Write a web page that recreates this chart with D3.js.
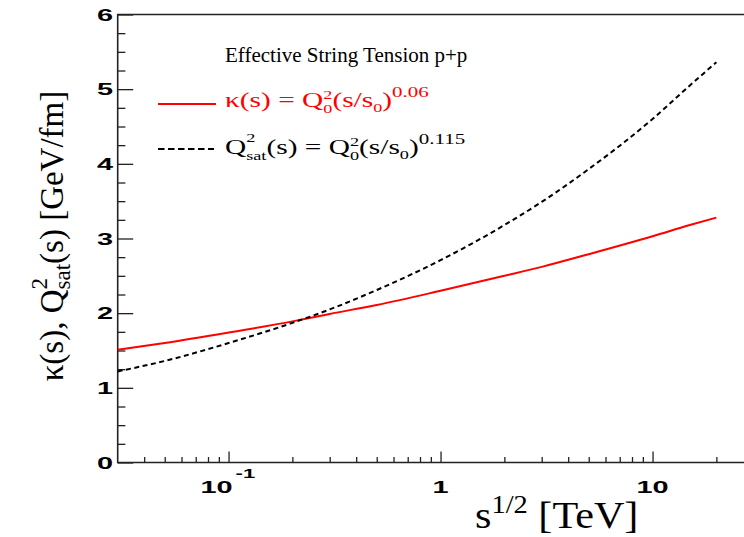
<!DOCTYPE html>
<html>
<head>
<meta charset="utf-8">
<script src="https://cdn.jsdelivr.net/npm/d3@7"></script>
<style>
  html, body { margin: 0; padding: 0; background: #fff; }
  svg { display: block; }
  .serif { font-family: "Liberation Serif", "DejaVu Serif", serif; }
  .bold { font-family: "Liberation Sans", Arial, sans-serif; font-weight: bold; }
</style>
</head>
<body>
<svg id="chart" width="744" height="537"></svg>
<script>
// sqrt(s) in TeV
const energy = [0.03, 0.05, 0.1, 0.2, 0.3, 0.5, 1, 2, 3, 5, 10, 15, 20];
// effective string tension kappa(s) [GeV/fm]
const kappa = [1.51, 1.60, 1.74, 1.89, 1.99, 2.11, 2.30, 2.50, 2.62, 2.79, 3.03, 3.18, 3.28];
// saturation scale Q_sat^2(s)
const qsat = [1.22, 1.36, 1.60, 1.87, 2.05, 2.31, 2.71, 3.18, 3.49, 3.93, 4.60, 5.05, 5.36];

const xMajorTicks = [0.1, 1, 10];
const xTickBase = ["10", "1", "10"];
const xTickExp = ["-1", "", ""];
const xMinorTicks = [0.04, 0.05, 0.06, 0.07, 0.08, 0.09, 0.2, 0.3, 0.4, 0.5, 0.6, 0.7, 0.8, 0.9,
                     2, 3, 4, 5, 6, 7, 8, 9, 20];
const yMajorTicks = [0, 1, 2, 3, 4, 5, 6];
const yMinorTicks = d3.range(0, 6.01, 0.25).filter(v => Math.abs(v - Math.round(v)) > 1e-6);

const plotLeft = 117.7, plotTop = 14.5, plotBottom = 462.5;
const x = d3.scaleLog().domain([0.03, 30]).range([plotLeft, plotLeft + 636]);
const y = d3.scaleLinear().domain([0, 6]).range([plotBottom, plotTop]);

const svg = d3.select("#chart");
const axisColor = "#222";

// frame: left, top, bottom lines
svg.append("path")
  .attr("d", `M${x.range()[1]},${plotTop}H${plotLeft}V${plotBottom}H${x.range()[1]}`)
  .attr("fill", "none").attr("stroke", axisColor).attr("stroke-width", 1.6);

// y ticks (pointing into the plot)
function styleAxis(g) {
  g.select(".domain").remove();
  g.selectAll(".tick line").attr("stroke", axisColor).attr("stroke-width", 1.3);
}
svg.append("g").attr("transform", `translate(${plotLeft},0)`)
  .call(d3.axisRight(y).tickValues(yMajorTicks).tickSize(15.5).tickFormat(""))
  .call(styleAxis);
svg.append("g").attr("transform", `translate(${plotLeft},0)`)
  .call(d3.axisRight(y).tickValues(yMinorTicks).tickSize(7.7).tickFormat(""))
  .call(styleAxis);

// x ticks (pointing up into the plot)
svg.append("g").attr("transform", `translate(0,${plotBottom})`)
  .call(d3.axisTop(x).tickValues(xMajorTicks).tickSize(11).tickFormat(""))
  .call(styleAxis);
svg.append("g").attr("transform", `translate(0,${plotBottom})`)
  .call(d3.axisTop(x).tickValues(xMinorTicks).tickSize(5.5).tickFormat(""))
  .call(styleAxis);

// y tick labels (wide bold digits)
const stretch = 1.7;
svg.append("g").selectAll("text").data(yMajorTicks).join("text")
  .attr("class", "bold")
  .attr("font-size", 17)
  .attr("text-anchor", "end")
  .attr("transform", d => `translate(113,${y(d) + 6.2}) scale(${stretch},1)`)
  .attr("fill", "#000")
  .text(d => d);

// x tick labels
xMajorTicks.forEach((v, i) => {
  const g = svg.append("g").attr("class", "bold").attr("fill", "#000");
  const hasExp = xTickExp[i] !== "";
  const baseW = xTickBase[i].length * 9.45 * stretch;
  const expW = hasExp ? 0.5 * 13 * stretch * xTickExp[i].length + 2 : 0;
  const total = baseW + expW;
  const x0 = x(v) - total / 2;
  g.append("text")
    .attr("font-size", 17)
    .attr("transform", `translate(${x0},${plotBottom + 30.5}) scale(${stretch},1)`)
    .text(xTickBase[i]);
  if (hasExp) {
    g.append("text")
      .attr("font-size", 13)
      .attr("transform", `translate(${x0 + baseW + 3},${plotBottom + 15.5}) scale(${stretch},1)`)
      .text(xTickExp[i]);
  }
});

// curves
const line = (vals) => d3.line()
  .x((d, i) => x(energy[i]))
  .y(d => y(d))
  .curve(d3.curveMonotoneX)(vals);

svg.append("path").attr("d", line(kappa))
  .attr("fill", "none").attr("stroke", "#ff0000").attr("stroke-width", 2);
svg.append("path").attr("d", line(qsat))
  .attr("fill", "none").attr("stroke", "#000").attr("stroke-width", 2)
  .attr("stroke-dasharray", "5,3.5");

// x axis title
const xt = svg.append("text").attr("class", "serif").attr("font-size", 37)
  .attr("transform", "translate(475,528) scale(1.14,1)").attr("fill", "#000");
xt.append("tspan").text("s");
xt.append("tspan").attr("font-size", 25).attr("dy", -15).text("1/2");
xt.append("tspan").attr("dy", 15).text(" [TeV]");

// y axis title
const yt = svg.append("text").attr("class", "serif").attr("font-size", 33)
  .attr("text-anchor", "middle")
  .attr("transform", "translate(63,236) rotate(-90)")
  .attr("fill", "#000");
yt.append("tspan").text("\u03ba(s), Q");
yt.append("tspan").attr("font-size", 23).attr("dy", -16).text("2");
yt.append("tspan").attr("font-size", 23).attr("dx", -11.5).attr("dy", 23).text("sat");
yt.append("tspan").attr("dy", -7).text("(s) [GeV/fm]");

// legend
svg.append("text").attr("class", "serif").attr("font-size", 21)
  .attr("x", 225).attr("y", 62).attr("fill", "#000")
  .text("Effective String Tension p+p");

const legStretch = 1.4;
const small = 13;
const expo = 15;
svg.append("line").attr("x1", 158).attr("x2", 216).attr("y1", 104).attr("y2", 104)
  .attr("stroke", "#ff0000").attr("stroke-width", 2);
const l1 = svg.append("text").attr("class", "serif").attr("font-size", 21)
  .attr("transform", `translate(225,107) scale(${legStretch},1)`).attr("fill", "#ff0000");
l1.append("tspan").text("\u03ba(s) = Q");
l1.append("tspan").attr("font-size", small).attr("dy", -8.5).text("2");
l1.append("tspan").attr("font-size", small).attr("dx", -6.5).attr("dy", 14.5).text("0");
l1.append("tspan").attr("dy", -6).text("(s/s");
l1.append("tspan").attr("font-size", small).attr("dy", 5).text("0");
l1.append("tspan").attr("dy", -5).text(")");
l1.append("tspan").attr("font-size", expo).attr("dy", -10).text("0.06");

svg.append("line").attr("x1", 158).attr("x2", 214).attr("y1", 149).attr("y2", 149)
  .attr("stroke", "#000").attr("stroke-width", 2).attr("stroke-dasharray", "6.5,3.5");
const l2 = svg.append("text").attr("class", "serif").attr("font-size", 21)
  .attr("transform", `translate(225,154) scale(${legStretch},1)`).attr("fill", "#000");
l2.append("tspan").text("Q");
l2.append("tspan").attr("font-size", small).attr("dy", -12).text("2");
l2.append("tspan").attr("font-size", small).attr("dx", -6.5).attr("dy", 18).text("sat");
l2.append("tspan").attr("dy", -6).text("(s) = Q");
l2.append("tspan").attr("font-size", small).attr("dy", -8.5).text("2");
l2.append("tspan").attr("font-size", small).attr("dx", -6.5).attr("dy", 14.5).text("0");
l2.append("tspan").attr("dy", -6).text("(s/s");
l2.append("tspan").attr("font-size", small).attr("dy", 5).text("0");
l2.append("tspan").attr("dy", -5).text(")");
l2.append("tspan").attr("font-size", expo).attr("dy", -10).text("0.115");
</script>
</body>
</html>
